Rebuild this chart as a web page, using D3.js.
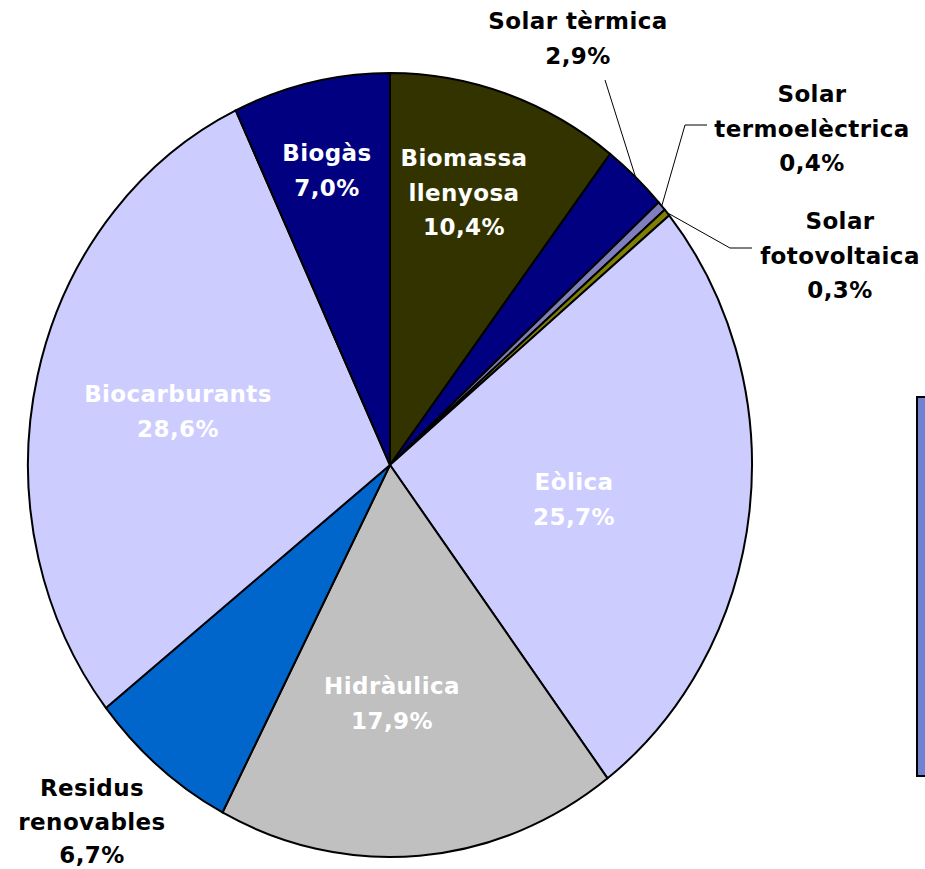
<!DOCTYPE html>
<html>
<head>
<meta charset="utf-8">
<script src="https://cdn.jsdelivr.net/npm/d3@7"></script>
<style>
  body { margin: 0; background: #fff; }
  svg { display: block; }
  text { font-family: "DejaVu Sans", Verdana, sans-serif; font-weight: bold; }
</style>
</head>
<body>
<script>
// chart data
const categories = ["Biomassa llenyosa", "Solar tèrmica", "Solar termoelèctrica", "Solar fotovoltaica",
                    "Eòlica", "Hidràulica", "Residus renovables", "Biocarburants", "Biogàs"];
const shares = [10.4, 2.9, 0.4, 0.3, 25.7, 17.9, 6.7, 28.6, 7.0];
const labelLines = [["Biomassa", "llenyosa"], ["Solar tèrmica"], ["Solar", "termoelèctrica"], ["Solar", "fotovoltaica"],
                    ["Eòlica"], ["Hidràulica"], ["Residus", "renovables"], ["Biocarburants"], ["Biogàs"]];
const sliceColors = ["#333300", "#000080", "#7f7fbf", "#808000", "#ccccff", "#c0c0c0", "#0066cc", "#ccccff", "#000080"];

const width = 925, height = 869;
const cx = 390, cy = 465, rx = 362, ry = 392;

// label placement: inside (white) or outside (black) with optional leader
const labelPos = [
  {x: 464, y: 157, inside: true},
  {x: 578, y: 20, inside: false, leader: [[605, 80]]},
  {x: 812, y: 93, inside: false, leader: [[707, 125], [685, 125]]},
  {x: 840, y: 220, inside: false, leader: [[752, 248], [730, 248]]},
  {x: 574, y: 481, inside: true},
  {x: 392, y: 685, inside: true},
  {x: 92, y: 787, inside: false, gap: 33.5},
  {x: 178, y: 393, inside: true},
  {x: 327, y: 152, inside: true}
];
const lineGap = 34.5;

const fmt = v => v.toFixed(1).replace(".", ",") + "%";

const svg = d3.select("body").append("svg")
              .attr("width", width)
              .attr("height", height);

const pie = d3.pie().sort(null).value(d => d)(shares);
const arc = d3.arc().innerRadius(0).outerRadius(rx);

const pieG = svg.append("g")
                .attr("transform", `translate(${cx},${cy}) scale(1,${ry / rx})`);

pieG.selectAll("path")
    .data(pie)
    .enter()
    .append("path")
    .attr("d", arc)
    .attr("fill", (d, i) => sliceColors[i])
    .attr("stroke", "#000")
    .attr("stroke-width", 2)
    .attr("vector-effect", "non-scaling-stroke")
    .attr("stroke-linejoin", "round");

// leader lines from label to rim midpoint
pie.forEach((d, i) => {
  const p = labelPos[i];
  if (!p.leader) return;
  const mid = (d.startAngle + d.endAngle) / 2;
  const rim = [cx + rx * Math.sin(mid), cy - ry * Math.cos(mid)];
  svg.append("path")
     .attr("d", d3.line()(p.leader.concat([rim])))
     .attr("fill", "none")
     .attr("stroke", "#000")
     .attr("stroke-width", 1);
});

// labels
categories.forEach((c, i) => {
  const p = labelPos[i];
  const gap = p.gap || lineGap;
  const lines = labelLines[i].concat([fmt(shares[i])]);
  const t = svg.append("text")
               .attr("text-anchor", "middle")
               .attr("font-size", 23)
               .attr("letter-spacing", 0.4)
               .attr("fill", p.inside ? "#fff" : "#000");
  lines.forEach((l, j) => {
    t.append("tspan")
     .attr("x", p.x)
     .attr("y", p.y + j * gap + 9)
     .text(l);
  });
});

// legend box (clipped at the right edge)
svg.append("rect")
   .attr("x", 917)
   .attr("y", 397)
   .attr("width", 40)
   .attr("height", 379)
   .attr("fill", "#7083d2")
   .attr("stroke", "#000")
   .attr("stroke-width", 2);
</script>
</body>
</html>
